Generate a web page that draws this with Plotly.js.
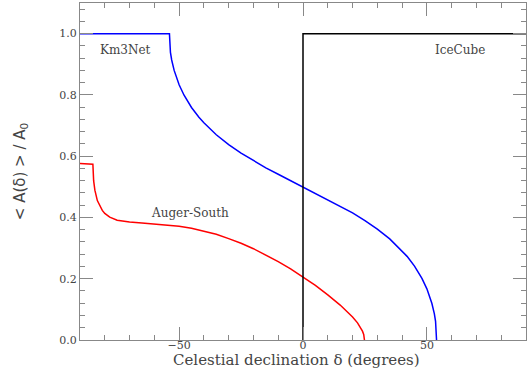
<!DOCTYPE html>
<html><head><meta charset="utf-8">
<script src="https://cdn.plot.ly/plotly-3.0.1.min.js"></script>
<style>html,body{margin:0;padding:0;background:#fff}#plot{width:530px;height:374px}</style>
</head><body><div id="plot"></div>
<script>
// Km3Net (blue)
const km3x = [-90, -53.9, -53.5, -53, -52, -51, -50, -48, -47, -45, -42, -40, -35, -30, -25, -20, -15, -10, -5, 0, 5, 10, 15, 20, 25, 30, 35, 40, 42, 45, 47, 48, 50, 51, 52, 53, 53.5, 53.9];
const km3y = [1, 1, 0.939, 0.914, 0.880, 0.854, 0.833, 0.799, 0.784, 0.759, 0.727, 0.709, 0.670, 0.638, 0.610, 0.585, 0.562, 0.541, 0.520, 0.5, 0.480, 0.459, 0.438, 0.415, 0.390, 0.362, 0.330, 0.291, 0.273, 0.241, 0.216, 0.201, 0.167, 0.146, 0.120, 0.086, 0.061, 0];
// Auger-South (red)
const augx = [-90, -87, -84.8, -84.5, -84, -83, -82, -81, -80, -78, -75, -70, -65, -60, -55, -50, -45, -40, -35, -30, -25, -20, -15, -10, -5, 0, 5, 10, 15, 20, 22, 24, 24.5, 24.8];
const augy = [0.576, 0.576, 0.574, 0.520, 0.489, 0.455, 0.436, 0.423, 0.413, 0.401, 0.391, 0.385, 0.382, 0.379, 0.376, 0.371, 0.365, 0.356, 0.345, 0.331, 0.316, 0.298, 0.278, 0.256, 0.232, 0.206, 0.178, 0.147, 0.114, 0.075, 0.056, 0.029, 0.018, 0];
// IceCube (black)
const icex = [0, 0, 90];
const icey = [0, 1, 1];

const labels = [
  {text: 'Km3Net', x: -71.7, y: 0.946},
  {text: 'IceCube', x: 63.2, y: 0.946},
  {text: 'Auger-South', x: -45.7, y: 0.415}
];
const xTitle = 'Celestial declination \u03b4 (degrees)';
const yTitle = '&lt; A(\u03b4) &gt; / A<sub>0</sub>';

const font = 'DejaVu Serif, serif';
const txtColor = '#444444';
const axColor = '#888888';

const traces = [
  {x: km3x, y: km3y, mode: 'lines', line: {color: '#0000ff', width: 1.5}, hoverinfo: 'skip'},
  {x: augx, y: augy, mode: 'lines', line: {color: '#ff0000', width: 1.5}, hoverinfo: 'skip'},
  {x: icex, y: icey, mode: 'lines', line: {color: '#000000', width: 1.5}, hoverinfo: 'skip'}
];

const axisCommon = {
  showgrid: false, zeroline: false, showline: true, linecolor: axColor, linewidth: 1,
  mirror: 'allticks', ticks: 'inside', ticklen: 13, tickcolor: axColor, tickwidth: 1,
  tickfont: {family: font, size: 11, color: txtColor}
};

const annots = labels.map(l => ({
  text: l.text, x: l.x, y: l.y, xref: 'x', yref: 'y', showarrow: false,
  font: {family: font, size: 12, color: txtColor}
}));
annots.push({
  text: xTitle, xref: 'paper', yref: 'paper', x: 0.485, y: -0.058,
  xanchor: 'center', yanchor: 'middle', showarrow: false,
  font: {family: font, size: 15, color: txtColor}
});

const layout = {
  width: 530, height: 374,
  margin: {l: 80, r: 4, t: 3, b: 34},
  paper_bgcolor: '#fff', plot_bgcolor: '#fff',
  showlegend: false,
  xaxis: Object.assign({}, axisCommon, {
    range: [-90, 90], tickvals: [-50, 0, 50], ticktext: ['\u221250', '0', '50'],
    ticklabelstandoff: -5,
    minor: {dtick: 10, tick0: 0, ticks: 'inside', ticklen: 5, tickcolor: axColor, tickwidth: 1}
  }),
  yaxis: Object.assign({}, axisCommon, {
    range: [0, 1.1], tickvals: [0, 0.2, 0.4, 0.6, 0.8, 1.0], ticktext: ['0.0', '0.2', '0.4', '0.6', '0.8', '1.0'],
    minor: {dtick: 0.04, tick0: 0, ticks: 'inside', ticklen: 5, tickcolor: axColor, tickwidth: 1},
    title: {text: yTitle, font: {family: 'DejaVu Sans, sans-serif', size: 15, color: txtColor}, standoff: 30}
  }),
  annotations: annots
};

Plotly.newPlot('plot', traces, layout, {staticPlot: true});
</script>
</body></html>
